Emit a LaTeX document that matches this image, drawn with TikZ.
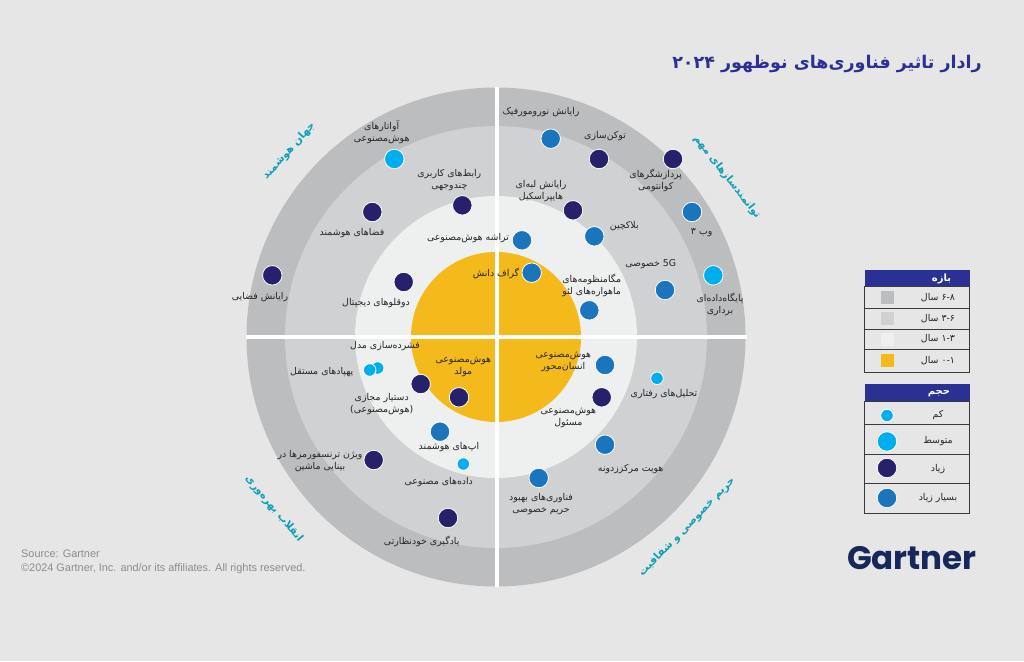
\documentclass[tikz,border=0pt]{standalone}
\usepackage{fontspec}
\setmainfont{Liberation Sans}
\newfontfamily\arabicfont[Script=Arabic]{DejaVu Sans}
\newfontfamily\logofont{Poppins}
\TeXXeTstate=1
\newcommand{\fa}[1]{{\arabicfont\beginR #1\endR}}
\definecolor{pagebg}{HTML}{E6E6E7}
\definecolor{ringouter}{HTML}{BCBDBF}
\definecolor{ringmid}{HTML}{D0D1D3}
\definecolor{ringinner}{HTML}{EEEFEF}
\definecolor{ringcore}{HTML}{F4B91B}
\definecolor{dotcyan}{HTML}{00AEEF}
\definecolor{dotnavy}{HTML}{27216B}
\definecolor{dotblue}{HTML}{1B75BC}
\definecolor{headblue}{HTML}{2B3192}
\definecolor{tealtext}{HTML}{0F9FB3}
\definecolor{logonavy}{HTML}{16285A}
\definecolor{rulegrey}{HTML}{3A3A3C}
\tikzset{
  dotsmall/.style={circle,draw=white,line width=0.8pt,inner sep=0pt,minimum size=12.5pt},
  dotlarge/.style={circle,draw=white,line width=0.8pt,inner sep=0pt,minimum size=19.5pt},
  lab/.style={align=center,inner sep=0pt,font=\fontsize{9.4}{12}\selectfont,text=black!85},
  ringlab/.style={inner sep=0pt,font=\fontsize{10.5}{12}\bfseries\selectfont,text=tealtext},
  keylab/.style={inner sep=0pt,font=\fontsize{9.4}{11}\selectfont,text=black!85},
  keyhead/.style={inner sep=0pt,font=\fontsize{10}{12}\bfseries\selectfont,text=white},
  swatch/.style={draw=none,inner sep=0pt,minimum size=13pt},
}
\begin{document}
\begin{tikzpicture}[x=1pt,y=-1pt]
    \useasboundingbox (0,0) rectangle (1024,661);
    \fill[pagebg] (0,0) rectangle (1024,661);
    % rings
    \fill[ringouter] (496,337) circle (249.5);
    \fill[ringmid] (496,337) circle (211);
    \fill[ringinner] (496,337) circle (141);
    \fill[ringcore] (496,337) circle (85);
    \draw[white,line width=4.2pt] (496.6,87) -- (496.6,587);
    \draw[white,line width=4.2pt] (246,337) -- (747,337);
    % title and ring names
    \node[inner sep=0pt,anchor=east,font=\fontsize{17.5}{20}\bfseries\selectfont,text=headblue] (title) at (982,64) {\fa{رادار تاثیر فناوری‌های نوظهور ۲۰۲۴}};
    \node[ringlab,rotate=48] (smartworld) at (289,151) {\fa{جهان هوشمند}};
    \node[ringlab,rotate=-52] (enablers) at (727,177) {\fa{توانمندسازهای مهم}};
    \node[ringlab,rotate=-50] (productivity) at (274,509) {\fa{انقلاب بهره‌وری}};
    \node[ringlab,rotate=46] (privacy) at (687,527) {\fa{حریم خصوصی و شفافیت}};
    % dots, top left
    \node[dotlarge,fill=dotcyan] (avatar) at (394.3,159) {};
    \node[dotlarge,fill=dotnavy] (multimodal) at (462.3,205.3) {};
    \node[dotlarge,fill=dotnavy] (spaces) at (372.3,212) {};
    \node[dotlarge,fill=dotnavy] (spacecomp) at (272.3,275.3) {};
    \node[dotlarge,fill=dotnavy] (twins) at (403.7,282) {};
    \node[dotlarge,fill=dotblue] (chips) at (522,240.3) {};
    \node[dotlarge,fill=dotblue] (graph) at (531.7,272.7) {};
    % dots, top right
    \node[dotlarge,fill=dotblue] (neuro) at (550.7,138.7) {};
    \node[dotlarge,fill=dotnavy] (token) at (599,159) {};
    \node[dotlarge,fill=dotnavy] (quantum) at (673,159) {};
    \node[dotlarge,fill=dotblue] (webthree) at (692,212) {};
    \node[dotlarge,fill=dotcyan] (vectordb) at (713.3,275.3) {};
    \node[dotlarge,fill=dotblue] (fiveg) at (665,290) {};
    \node[dotlarge,fill=dotnavy] (edge) at (573,210.3) {};
    \node[dotlarge,fill=dotblue] (block) at (594.3,236.3) {};
    \node[dotlarge,fill=dotblue] (leo) at (589.3,310.3) {};
    % dots, bottom left
    \node[dotsmall,fill=dotcyan] (compress) at (377.7,368) {};
    \node[dotsmall,fill=dotcyan] (drones) at (369.7,370) {};
    \node[dotlarge,fill=dotnavy] (assistant) at (420.7,384) {};
    \node[dotlarge,fill=dotnavy] (genai) at (459,397.3) {};
    \node[dotlarge,fill=dotblue] (apps) at (440,431.7) {};
    \node[dotsmall,fill=dotcyan] (synth) at (463.3,464) {};
    \node[dotlarge,fill=dotnavy] (vision) at (373.7,460) {};
    \node[dotlarge,fill=dotnavy] (selfsup) at (448,518) {};
    % dots, bottom right
    \node[dotlarge,fill=dotblue] (human) at (605,365) {};
    \node[dotlarge,fill=dotnavy] (responsible) at (601.7,397.3) {};
    \node[dotsmall,fill=dotcyan] (behave) at (657,378.3) {};
    \node[dotlarge,fill=dotblue] (decentral) at (605,444.7) {};
    \node[dotlarge,fill=dotblue] (pet) at (538.7,478) {};
    % labels
    \node[lab] (avatarlab) at (381.7,132.3) {\fa{آواتارهای}\\\fa{هوش‌مصنوعی}};
    \node[lab] (multimodallab) at (449.3,180) {\fa{رابط‌های کاربری}\\\fa{چندوجهی}};
    \node[lab] (spaceslab) at (352,232.7) {\fa{فضاهای هوشمند}};
    \node[lab] (spacecomplab) at (260,297.5) {\fa{رایانش فضایی}};
    \node[lab] (twinslab) at (376,302.7) {\fa{دوقلوهای دیجیتال}};
    \node[lab] (chipslab) at (468,238) {\fa{تراشه هوش‌مصنوعی}};
    \node[lab] (graphlab) at (496,273) {\fa{گراف دانش}};
    \node[lab] (neurolab) at (541,112.3) {\fa{رایانش نورومورفیک}};
    \node[lab] (tokenlab) at (605,135.7) {\fa{توکن‌سازی}};
    \node[lab] (quantumlab) at (655.7,180) {\fa{پردازشگرهای}\\\fa{کوانتومی}};
    \node[lab] (webthreelab) at (701.7,232.7) {\fa{وب ۳}};
    \node[lab] (vectordblab) at (720,304.3) {\fa{پایگاه‌داده‌ای}\\\fa{برداری}};
    \node[lab] (fiveglab) at (650.7,264.3) {\fa{\beginL 5G\endL{} خصوصی}};
    \node[lab] (edgelab) at (541,191) {\fa{رایانش لبه‌ای}\\\fa{هایپراسکیل}};
    \node[lab] (blocklab) at (624.3,226.3) {\fa{بلاکچین}};
    \node[lab] (leolab) at (591.7,285.7) {\fa{مگامنظومه‌های}\\\fa{ماهواره‌های لئو}};
    \node[lab] (compresslab) at (385,346) {\fa{فشرده‌سازی مدل}};
    \node[lab] (droneslab) at (321.7,371.7) {\fa{پهپادهای مستقل}};
    \node[lab] (assistantlab) at (381.7,404) {\fa{دستیار مجازی}\\\fa{(هوش‌مصنوعی)}};
    \node[lab] (genailab) at (463.3,367.3) {\fa{هوش‌مصنوعی}\\\fa{مولد}};
    \node[lab] (appslab) at (449,446.7) {\fa{اپ‌های هوشمند}};
    \node[lab] (synthlab) at (438.7,481.7) {\fa{داده‌های مصنوعی}};
    \node[lab] (visionlab) at (320,460.7) {\fa{ویژن ترنسفورمرها در}\\\fa{بینایی ماشین}};
    \node[lab] (selfsuplab) at (421.7,541.7) {\fa{یادگیری خودنظارتی}};
    \node[lab] (humanlab) at (563.3,361.7) {\fa{هوش‌مصنوعی}\\\fa{انسان‌محور}};
    \node[lab] (responsiblelab) at (568.3,418.3) {\fa{هوش‌مصنوعی}\\\fa{مسئول}};
    \node[lab] (behavelab) at (664,394) {\fa{تحلیل‌های رفتاری}};
    \node[lab] (decentrallab) at (630.7,469) {\fa{هویت مرکززدونه}};
    \node[lab] (petlab) at (541,504.3) {\fa{فناوری‌های بهبود}\\\fa{حریم خصوصی}};
    % range key
    \fill[headblue] (864.7,270) rectangle (969.7,286.3);
    \node[keyhead] (rangehead) at (941.5,278.5) {\fa{بازه}};
    \draw[rulegrey,line width=0.8pt] (864.7,286.3) rectangle (969.7,372.3);
    \foreach \y in {308.3,329,349.3} \draw[rulegrey,line width=0.8pt] (864.7,\y) -- (969.7,\y);
    \node[swatch,fill=ringouter] (sweight) at (887.5,297.5) {};
    \node[swatch,fill=ringmid] (ssix) at (887.5,318.5) {};
    \node[swatch,fill=ringinner] (sthree) at (887.5,339) {};
    \node[swatch,fill=ringcore] (sone) at (887.5,360.5) {};
    \node[keylab] (leight) at (938,297.5) {\fa{\beginL ۶-۸\endL{} سال}};
    \node[keylab] (lsix) at (938,318.5) {\fa{\beginL ۳-۶\endL{} سال}};
    \node[keylab] (lthree) at (938,339) {\fa{\beginL ۱-۳\endL{} سال}};
    \node[keylab] (lone) at (938,360.5) {\fa{\beginL ۰-۱\endL{} سال}};
    % volume key
    \fill[headblue] (864.7,384) rectangle (969.7,401);
    \node[keyhead] (volhead) at (939,393.5) {\fa{حجم}};
    \draw[rulegrey,line width=0.8pt] (864.7,401) rectangle (969.7,513.3);
    \foreach \y in {424,454,483.7} \draw[rulegrey,line width=0.8pt] (864.7,\y) -- (969.7,\y);
    \node[dotsmall,fill=dotcyan] (klow) at (887,415.5) {};
    \node[dotlarge,fill=dotcyan] (kmid) at (887,441.5) {};
    \node[dotlarge,fill=dotnavy] (khigh) at (887,468) {};
    \node[dotlarge,fill=dotblue] (kvery) at (887,498) {};
    \node[keylab] (llow) at (938,415) {\fa{کم}};
    \node[keylab] (lmid) at (938,441.5) {\fa{متوسط}};
    \node[keylab] (lhigh) at (938,469) {\fa{زیاد}};
    \node[keylab] (lvery) at (938,498) {\fa{بسیار زیاد}};
    % source and logo
    \node[anchor=west,inner sep=0pt,font=\fontsize{10.9}{13}\selectfont,text=black!45] (source) at (21,554) {Source: Gartner};
    \node[anchor=west,inner sep=0pt,font=\fontsize{10.9}{13}\selectfont,text=black!45] (rights) at (21,569) {©2024 Gartner, Inc. and/or its affiliates. All rights reserved.};
    \node[anchor=east,inner sep=0pt,font=\logofont\fontsize{32.5}{36}\bfseries\selectfont,text=logonavy] (logo) at (977,558) {Gartner};
\end{tikzpicture}
\end{document}
